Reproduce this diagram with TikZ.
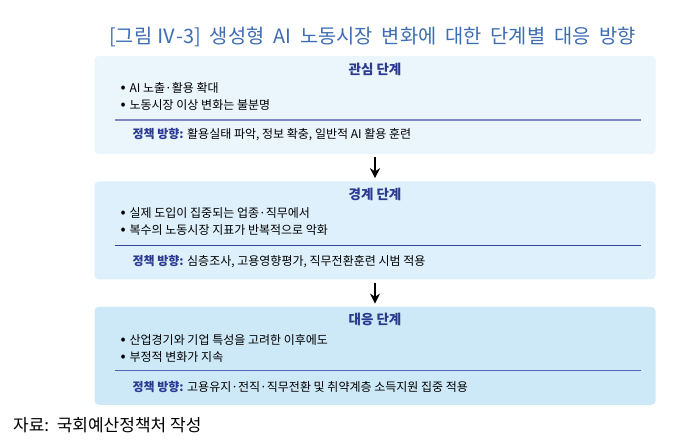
\documentclass[tikz,border=0pt]{standalone}
\usepackage{fontspec}
\setmainfont{Noto Sans CJK KR}
\usetikzlibrary{positioning,arrows.meta}

\definecolor{titleblue}{HTML}{3D6DB3}
\definecolor{navy}{HTML}{2B3990}
\definecolor{boxa}{HTML}{EAF5FC}
\definecolor{boxb}{HTML}{DDF0FB}
\definecolor{boxc}{HTML}{CDE9F8}
\definecolor{linea}{HTML}{7F88C4}
\definecolor{lineb}{HTML}{34469C}
\definecolor{linec}{HTML}{5563B5}

\newcommand{\dotmark}{{\fontsize{15}{12}\selectfont •}\hspace{4pt}}

\begin{document}
\begin{tikzpicture}[x=1pt, y=-1pt, node distance=27pt,
    stage/.style = {rounded corners=4pt, minimum width=561pt, minimum height=98pt, inner sep=0pt},
    head/.style = {font=\fontsize{13.5}{15}\selectfont\bfseries, text=navy},
    item/.style = {anchor=west, inner sep=0pt, font=\fontsize{12}{14}\selectfont},
    policy/.style = {anchor=west, inner sep=0pt, font=\fontsize{12}{14}\selectfont},
    rule/.style = {line width=1.4pt},
    flow/.style = {line width=1.6pt, -{Stealth[length=10pt,width=10pt]}, shorten <=3pt, shorten >=3pt}]
    \useasboundingbox (0,0) rectangle (696,444);

    \node[font=\fontsize{19.8}{22}\selectfont, text=titleblue, anchor=west, inner sep=0pt] (title) at (109,37)
        {[그림\ Ⅳ-3]\ \ 생성형\ \ AI\ \ 노동시장\ \ 변화에\ \ 대한\ \ 단계별\ \ 대응\ \ 방향};

    % stage boxes
    \node[stage, fill=boxa] (s1) at (375,105) {};
    \node[stage, fill=boxb] (s2) [below=of s1] {};
    \node[stage, fill=boxc] (s3) [below=of s2] {};

    % stage 1
    \node[head] (h1) at ([yshift=-14pt]s1.north) {관심 단계};
    \node[item] (a1) at ([xshift=26pt,yshift=-32pt]s1.north west) {\dotmark AI 노출·활용 확대};
    \node[item] (a2) at ([xshift=26pt,yshift=-49pt]s1.north west) {\dotmark 노동시장 이상 변화는 불분명};
    \draw[rule, linea] ([xshift=21pt,yshift=-64pt]s1.north west) -- ([xshift=-15pt,yshift=-64pt]s1.north east);
    \node[policy] (p1) at ([xshift=38pt,yshift=-79pt]s1.north west) {\textcolor{navy}{\bfseries 정책 방향:} 활용실태 파악,\ 정보 확충,\ 일반적 AI 활용 훈련};

    % stage 2
    \node[head] (h2) at ([yshift=-13pt]s2.north) {경계 단계};
    \node[item] (b1) at ([xshift=26pt,yshift=-32pt]s2.north west) {\dotmark 실제 도입이 집중되는 업종·직무에서};
    \node[item] (b2) at ([xshift=26pt,yshift=-49pt]s2.north west) {\dotmark 복수의 노동시장 지표가 반복적으로 악화};
    \draw[rule, lineb] ([xshift=21pt,yshift=-64pt]s2.north west) -- ([xshift=-15pt,yshift=-64pt]s2.north east);
    \node[policy] (p2) at ([xshift=38pt,yshift=-80pt]s2.north west) {\textcolor{navy}{\bfseries 정책 방향:} 심층조사, 고용영향평가, 직무전환훈련 시범 적용};

    % stage 3
    \node[head] (h3) at ([yshift=-13pt]s3.north) {대응 단계};
    \node[item] (c1) at ([xshift=26pt,yshift=-33pt]s3.north west) {\dotmark 산업경기와 기업 특성을 고려한 이후에도};
    \node[item] (c2) at ([xshift=26pt,yshift=-50pt]s3.north west) {\dotmark 부정적 변화가 지속};
    \draw[rule, linec] ([xshift=21pt,yshift=-64pt]s3.north west) -- ([xshift=-15pt,yshift=-64pt]s3.north east);
    \node[policy] (p3) at ([xshift=38pt,yshift=-80pt]s3.north west) {\textcolor{navy}{\bfseries 정책 방향:} 고용유지·전직·직무전환 및 취약계층 소득지원 집중 적용};

    \draw[flow] (s1) -- (s2);
    \draw[flow] (s2) -- (s3);

    \node[font=\fontsize{17}{18}\selectfont, anchor=west, inner sep=0pt] (src) at (13,425) {자료:\ \ 국회예산정책처\ 작성};
\end{tikzpicture}
\end{document}
